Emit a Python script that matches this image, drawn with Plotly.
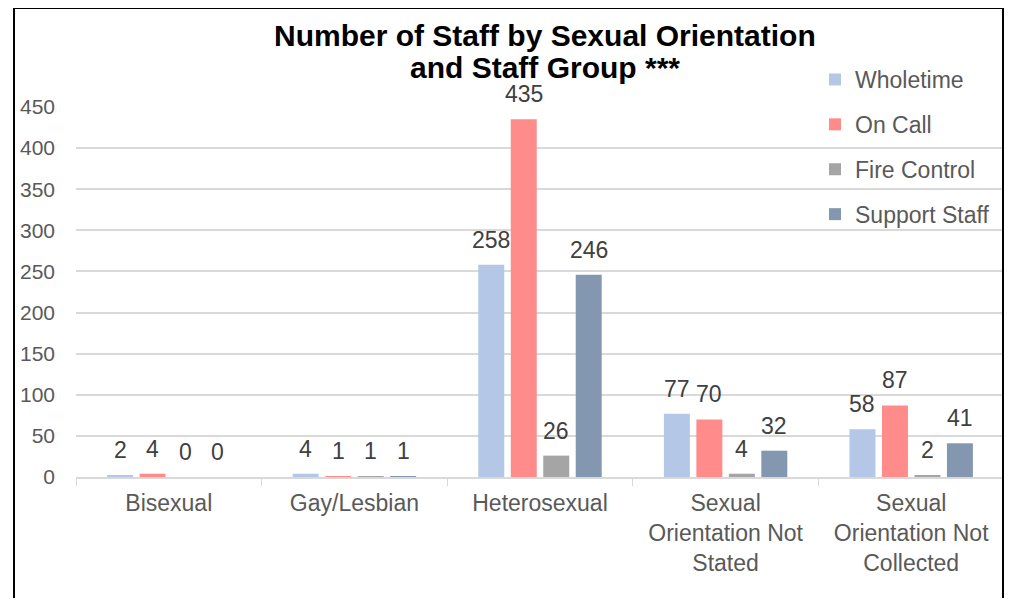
import plotly.graph_objects as go

categories = ["Bisexual", "Gay/Lesbian", "Heterosexual",
              "Sexual<br>Orientation Not<br>Stated",
              "Sexual<br>Orientation Not<br>Collected"]
wholetime = [2, 4, 258, 77, 58]
on_call = [4, 1, 435, 70, 87]
fire_control = [0, 1, 26, 4, 2]
support_staff = [0, 1, 246, 32, 41]

series = [
    ("Wholetime", wholetime, "#B4C7E7"),
    ("On Call", on_call, "#FF8B8B"),
    ("Fire Control", fire_control, "#A5A5A5"),
    ("Support Staff", support_staff, "#8497B0"),
]

title_lines = ["Number of Staff by Sexual Orientation", "and Staff Group ***"]

FONT = "Liberation Sans, Arial, sans-serif"

# page has an 8px body margin, so the figure is shrunk to fit the window
OFF = 8
W, H = 1012 - 2 * OFF, 606 - 2 * OFF
# plot area in window pixels: x 76..1004, y 107..477
X0, X1, Y0, Y1 = 76, 1004, 107, 477
pw = X1 - X0
ph = Y1 - Y0
BARGAP = 0.3


def px(x):
    return (x - X0) / pw


def py(y):
    return (Y1 - y) / ph


fig = go.Figure()
for i, (name, vals, col) in enumerate(series):
    fig.add_trace(go.Bar(
        x=categories, y=vals, name=name,
        marker=dict(color=col, line=dict(width=0)),
        legendgroup=f"g{i}",
    ))

# data labels, lifted a bit higher above the bars than plotly's default
slot = (1 - BARGAP) * pw / len(categories) / len(series)
for i, (name, vals, col) in enumerate(series):
    for cat, v in zip(categories, vals):
        fig.add_annotation(
            x=cat, y=v, xref="x", yref="y", text=str(v), showarrow=False,
            xshift=(i - (len(series) - 1) / 2) * slot,
            yanchor="bottom", yshift=10,
            font=dict(size=23, color="#404040", family=FONT),
        )

fig.update_layout(
    width=W, height=H,
    margin=dict(l=X0 - OFF, r=W - (X1 - OFF), t=Y0 - OFF, b=H - (Y1 - OFF),
                autoexpand=False),
    paper_bgcolor="white", plot_bgcolor="white",
    barmode="group", bargap=BARGAP, bargroupgap=0.2,
    font=dict(family=FONT, color="#595959", size=22),
    legend=dict(
        x=px(815), xanchor="left",
        y=py(58), yanchor="top",
        bgcolor="rgba(0,0,0,0)",
        font=dict(size=23, color="#595959", family=FONT),
        traceorder="grouped", tracegroupgap=12,
    ),
    showlegend=True,
)

# two-line title with tight line spacing
for k, line in enumerate(title_lines):
    fig.add_annotation(
        text=f"<b>{line}</b>", showarrow=False,
        xref="paper", yref="paper", x=px(545), xanchor="center",
        y=py(35 + 33 * k), yanchor="middle",
        font=dict(size=30, color="black", family=FONT),
    )

fig.update_xaxes(
    showgrid=False, showline=True, linecolor="#D9D9D9", linewidth=1.5,
    ticks="outside", tickson="boundaries", ticklen=7, tickcolor="#D9D9D9",
    tickfont=dict(size=23, color="#595959"), ticklabelstandoff=5,
)
fig.update_yaxes(
    range=[0, 450], dtick=50, showgrid=True, gridcolor="#D9D9D9", gridwidth=1.5,
    zeroline=False, showline=False, ticks="",
    tickfont=dict(size=21, color="#595959"), ticklabelstandoff=20,
)

# outer chart border
fig.add_shape(
    type="rect", xref="paper", yref="paper",
    x0=px(14), x1=px(1003),
    y0=py(620), y1=py(8),
    line=dict(color="black", width=2), fillcolor="rgba(0,0,0,0)",
    layer="above",
)

fig.write_html("out.html")
